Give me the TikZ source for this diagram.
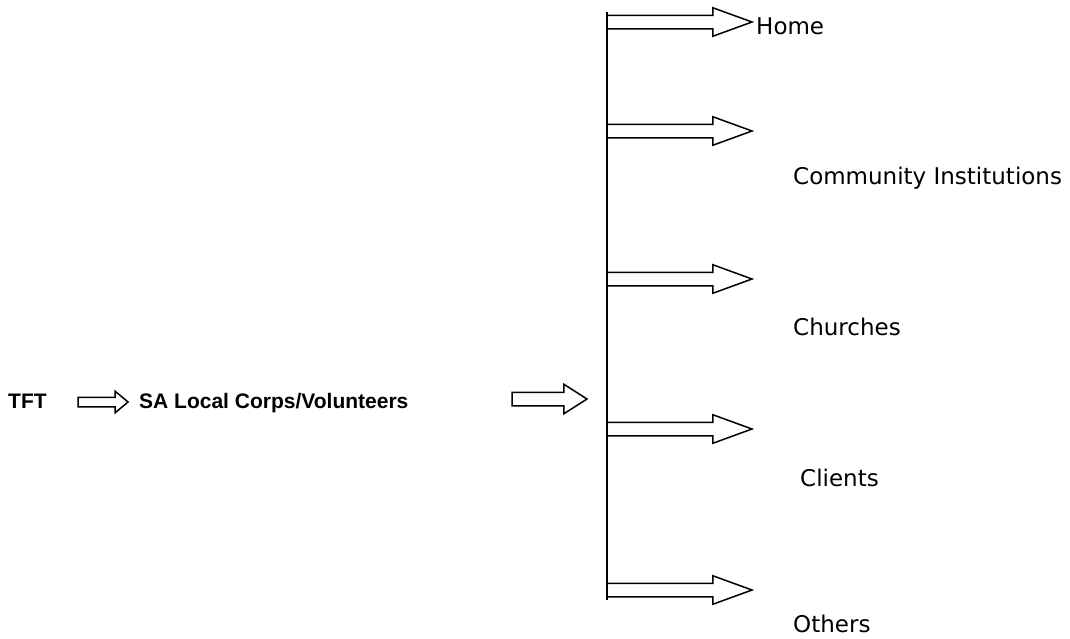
\documentclass[tikz,border=0pt]{standalone}
\usepackage{fontspec}
\setmainfont{DejaVu Sans}
\newfontfamily\headfont{Liberation Sans}
\usetikzlibrary{shapes.arrows}
\tikzset{
blockarrow/.style = {single arrow, draw, line width=1.5pt, fill=white,
              inner xsep=0pt, outer sep=0pt, anchor=west},
bigarrow/.style = {blockarrow, minimum height=145pt, inner ysep=6pt,
              single arrow head extend=7.5pt, single arrow tip angle=40}, % branch arrows
smallarrow/.style = {blockarrow, minimum height=50pt, inner ysep=4pt,
              single arrow head extend=6pt, single arrow tip angle=80},
midarrow/.style = {blockarrow, minimum height=75pt, inner ysep=6pt,
              single arrow head extend=8pt, single arrow tip angle=65},
tag/.style = {anchor=base west, inner sep=0pt, font=\fontsize{23}{27}\selectfont},
boldtag/.style = {tag, font=\headfont\fontsize{21}{25}\selectfont\bfseries}
}

\begin{document}
\begin{tikzpicture}[x=1pt, y=-1pt]
	\useasboundingbox (0,0) rectangle (1070,638);
	\def \xbar{607}

	% Left chain
	\node[boldtag] (tft) at (8,408) {TFT};
	\node[smallarrow] (a1) at (78,402) {};
	\node[boldtag] (sa) at (139,408) {SA Local Corps/Volunteers};
	\node[midarrow] (a2) at (512,399) {};

	% Vertical bar
	\coordinate (top) at (\xbar,12);
	\coordinate (bot) at (\xbar,600);
	\draw[line width=1.5pt] (top) -- (bot);

	% Branches
	\node[bigarrow] (b1) at (\xbar,22) {};
	\node[bigarrow] (b2) at (\xbar,131) {};
	\node[bigarrow] (b3) at (\xbar,279) {};
	\node[bigarrow] (b4) at (\xbar,429) {};
	\node[bigarrow] (b5) at (\xbar,590) {};

	% Targets
	\node[tag] (home) at (756,34) {Home};
	\node[tag] (comm) at (793,184) {Community Institutions};
	\node[tag] (church) at (793,335) {Churches};
	\node[tag] (client) at (800,486) {Clients};
	\node[tag] (other) at (793,632) {Others};
\end{tikzpicture}
\end{document}
